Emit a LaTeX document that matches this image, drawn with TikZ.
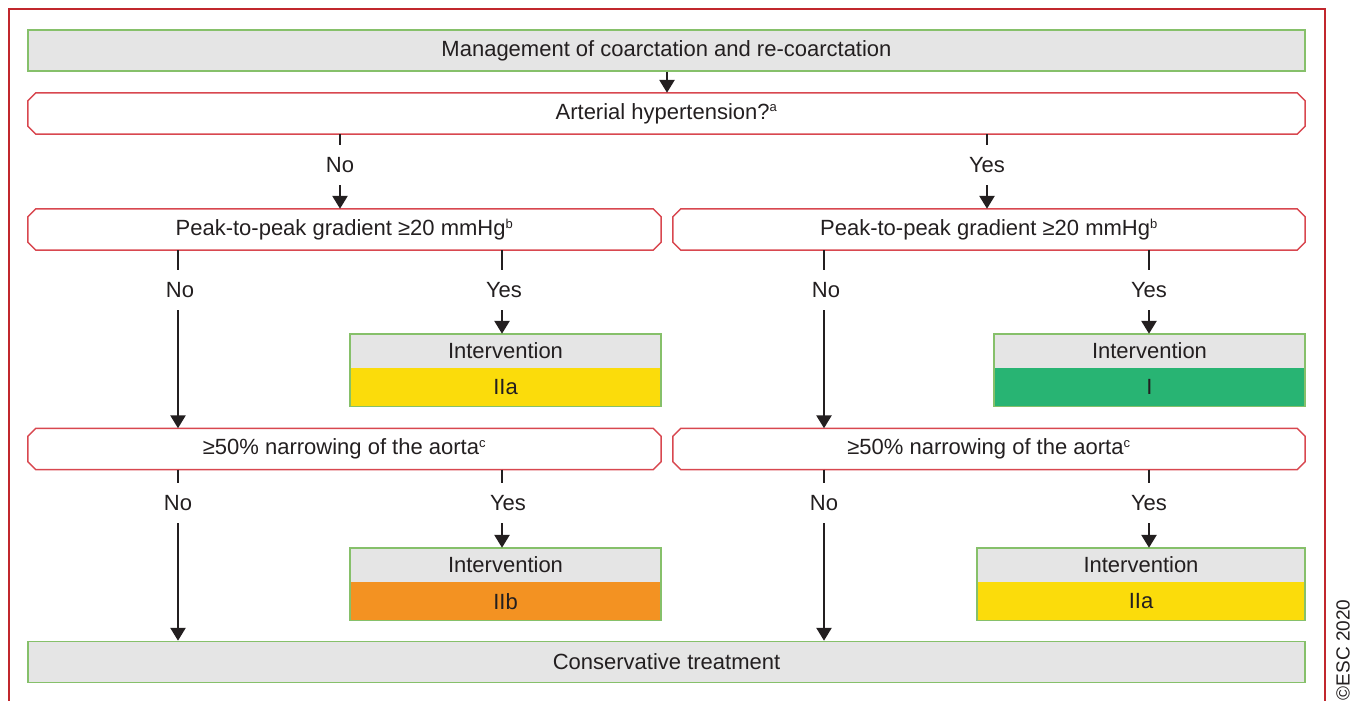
\documentclass[tikz,border=0pt]{standalone}
\usepackage{fontspec}
\setmainfont{Liberation Sans}
\usetikzlibrary{arrows.meta,positioning}

\definecolor{inkgray}{HTML}{231F20}
\definecolor{panelgray}{HTML}{E5E5E5}
\definecolor{leafgreen}{HTML}{86C06A}
\definecolor{askred}{HTML}{D8474F}
\definecolor{framered}{HTML}{C1272D}
\definecolor{classI}{HTML}{28B473}
\definecolor{classIIa}{HTML}{FBDC0B}
\definecolor{classIIb}{HTML}{F39222}

% small superscript note
\newcommand{\notemark}[1]{\textsuperscript{\fontsize{13}{13}\selectfont #1}}
% octagon outline round a question node
\newcommand{\askframe}[1]{%
    \draw[askline] ([xshift=8pt]#1.north west) -- ([xshift=-8pt]#1.north east)
        -- ([yshift=-8pt]#1.north east) -- ([yshift=8pt]#1.south east)
        -- ([xshift=-8pt]#1.south east) -- ([xshift=8pt]#1.south west)
        -- ([yshift=8pt]#1.south west) -- ([yshift=-8pt]#1.north west) -- cycle;}

\begin{document}
\begin{tikzpicture}[x=1pt,y=-1pt,
    txt/.style={font=\fontsize{22}{26}\selectfont, text=inkgray},
    titlebox/.style={txt, draw=leafgreen, fill=panelgray, line width=1.5pt,
        minimum height=41pt, inner sep=0pt},
    askbox/.style={txt, minimum height=41pt, inner sep=0pt},
    askline/.style={draw=askred, line width=1.5pt, line join=miter},
    ivhead/.style={txt, fill=panelgray, minimum height=34pt, inner sep=0pt},
    ivclass/.style={txt, minimum height=38pt, inner sep=0pt},
    ivframe/.style={draw=leafgreen, line width=1.5pt},
    answer/.style={txt, minimum height=40pt, inner sep=0pt},
    stub/.style={line width=2.6pt, inkgray},
    flow/.style={line width=2.6pt, inkgray, -{Triangle[width=15pt,length=13pt]}}]

    \useasboundingbox (0,0) rectangle (1360,701);

    % Outer frame
    \draw [framered, line width=2.5pt] (9,701) -- (9,9) -- (1325,9) -- (1325,701);

    % Boxes
    \node[titlebox, minimum width=1277pt] (title) at (666.5,50.5) {Management of coarctation and re-coarctation};
    \node[askbox, minimum width=1277pt] (hyp) at (666.5,113.5) {Arterial hypertension?\notemark{a}};
    \askframe{hyp}

    \node[askbox, minimum width=633pt] (gradL) at (344.5,229.5) {Peak-to-peak gradient ≥20 mmHg\notemark{b}};
    \node[askbox, minimum width=632pt] (gradR) at (989,229.5) {Peak-to-peak gradient ≥20 mmHg\notemark{b}};
    \askframe{gradL}
    \askframe{gradR}

    \node[askbox, minimum width=633pt] (narL) at (344.5,449) {≥50\% narrowing of the aorta\notemark{c}};
    \node[askbox, minimum width=632pt] (narR) at (989,449) {≥50\% narrowing of the aorta\notemark{c}};
    \askframe{narL}
    \askframe{narR}

    \node[titlebox, minimum width=1277pt] (cons) at (666.5,662) {Conservative treatment};

    % Interventions
    \node[ivhead, minimum width=311pt] (ivA) at (505.5,351) {Intervention};
    \node[ivclass, fill=classIIa, minimum width=311pt, below=0pt of ivA] (ivAc) {IIa};
    \draw[ivframe] (ivA.north west) rectangle (ivAc.south east);

    \node[ivhead, minimum width=311pt] (ivB) at (1149.5,351) {Intervention};
    \node[ivclass, fill=classI, minimum width=311pt, below=0pt of ivB] (ivBc) {I};
    \draw[ivframe] (ivB.north west) rectangle (ivBc.south east);

    \node[ivhead, minimum width=311pt] (ivC) at (505.5,565) {Intervention};
    \node[ivclass, fill=classIIb, minimum width=311pt, below=0pt of ivC] (ivCc) {IIb};
    \draw[ivframe] (ivC.north west) rectangle (ivCc.south east);

    \node[ivhead, minimum width=328pt] (ivD) at (1141,565) {Intervention};
    \node[ivclass, fill=classIIa, minimum width=328pt, below=0pt of ivD] (ivDc) {IIa};
    \draw[ivframe] (ivD.north west) rectangle (ivDc.south east);

    % Answers
    \node[answer] (hypNo) at (340,165) {No};
    \node[answer] (hypYes) at (987,165) {Yes};
    \node[answer] (gradLNo) at (180,290) {No};
    \node[answer] (gradLYes) at (504,290) {Yes};
    \node[answer] (gradRNo) at (826,290) {No};
    \node[answer] (gradRYes) at (1149,290) {Yes};
    \node[answer] (narLNo) at (178,503) {No};
    \node[answer] (narLYes) at (508,503) {Yes};
    \node[answer] (narRNo) at (824,503) {No};
    \node[answer] (narRYes) at (1149,503) {Yes};

    % Connectors
    \draw[flow] (title.south -| 667,0) -- (hyp.north -| 667,0);

    \draw[stub] (hyp.south -| hypNo) -- (hypNo);
    \draw[flow] (hypNo) -- (gradL.north -| hypNo);
    \draw[stub] (hyp.south -| hypYes) -- (hypYes);
    \draw[flow] (hypYes) -- (gradR.north -| hypYes);

    \draw[stub] (gradL.south -| 178,0) -- (gradLNo.north -| 178,0);
    \draw[flow] (gradLNo.south -| 178,0) -- (narL.north -| 178,0);
    \draw[stub] (gradL.south -| 502,0) -- (gradLYes.north -| 502,0);
    \draw[flow] (gradLYes.south -| 502,0) -- (ivA.north -| 502,0);
    \draw[stub] (gradR.south -| 824,0) -- (gradRNo.north -| 824,0);
    \draw[flow] (gradRNo.south -| 824,0) -- (narR.north -| 824,0);
    \draw[stub] (gradR.south -| gradRYes) -- (gradRYes);
    \draw[flow] (gradRYes) -- (ivB.north -| gradRYes);

    \draw[stub] (narL.south -| narLNo) -- (narLNo);
    \draw[flow] (narLNo) -- (cons.north -| narLNo);
    \draw[stub] (narL.south -| 502,0) -- (narLYes.north -| 502,0);
    \draw[flow] (narLYes.south -| 502,0) -- (ivC.north -| 502,0);
    \draw[stub] (narR.south -| narRNo) -- (narRNo);
    \draw[flow] (narRNo) -- (cons.north -| narRNo);
    \draw[stub] (narR.south -| narRYes) -- (narRYes);
    \draw[flow] (narRYes) -- (ivD.north -| narRYes);

    % Copyright
    \node[rotate=90, font=\fontsize{19}{22}\selectfont, text=inkgray] (esc) at (1343,650) {©ESC 2020};
\end{tikzpicture}
\end{document}
